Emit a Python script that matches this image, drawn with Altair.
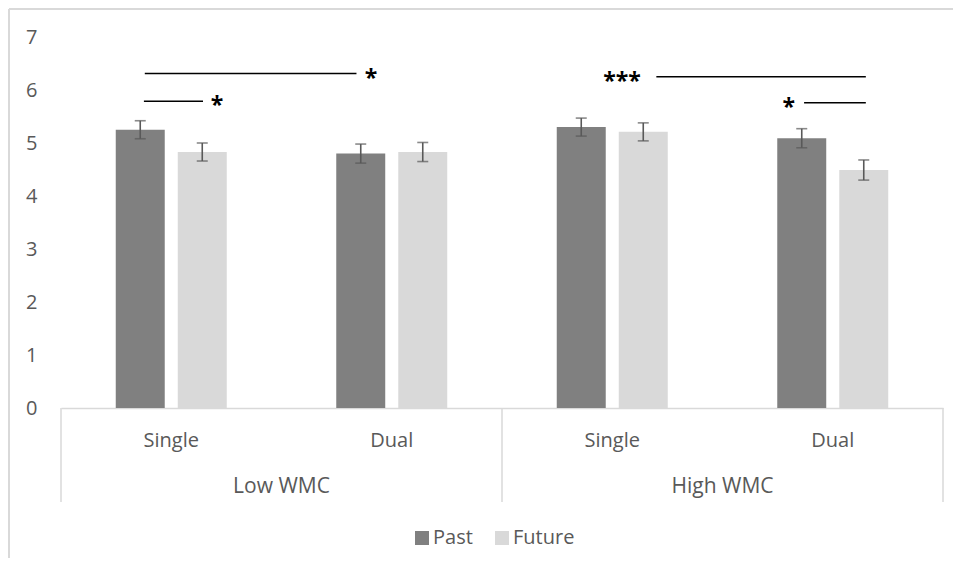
import altair as alt
import pandas as pd

# ---- data ----
groups = ["Low WMC", "Low WMC", "High WMC", "High WMC"]
conds = ["Single", "Dual", "Single", "Dual"]
past_mean = [5.25, 4.80, 5.30, 5.09]
past_err = [0.17, 0.18, 0.17, 0.18]
future_mean = [4.83, 4.83, 5.21, 4.49]
future_err = [0.17, 0.18, 0.17, 0.19]
series = ["Past", "Future"]
series_colors = ["#808080", "#d9d9d9"]

# significance brackets (x in category units, 0..4)
sig_x1 = [0.38, 0.376, 2.70, 3.37]
sig_x2 = [1.34, 0.644, 3.65, 3.65]
sig_y = [6.31, 5.79, 6.25, 5.76]
star_x = [1.406, 0.707, 2.544, 3.30]
star_text = ["*", "*", "***", "*"]

group_names = ["Low WMC", "High WMC"]
group_centers = [1, 3]
separators = [0, 2, 4]

keys = [f"{g}|{c}" for g, c in zip(groups, conds)]
rows = []
for i, k in enumerate(keys):
    rows.append(dict(key=k, time="Past", mean=past_mean[i],
                     lo=past_mean[i] - past_err[i], hi=past_mean[i] + past_err[i]))
    rows.append(dict(key=k, time="Future", mean=future_mean[i],
                     lo=future_mean[i] - future_err[i], hi=future_mean[i] + future_err[i]))
df = pd.DataFrame(rows)

W, H = 882, 371
FONT = "Open Sans"
TXT = "#595959"

xband = alt.X("key:N", scale=alt.Scale(domain=keys, paddingInner=0, paddingOuter=0),
              axis=alt.Axis(title=None, labelExpr="split(datum.label, '|')[1]",
                            labelAngle=0, labelFont=FONT, labelFontSize=20,
                            labelColor=TXT, labelBaseline="middle", labelPadding=32,
                            ticks=False, domainColor="#d9d9d9", domainWidth=1.5))
xoff = alt.XOffset("time:N", scale=alt.Scale(domain=series, paddingInner=0.21, paddingOuter=0.883))
yscale = alt.Scale(domain=[0, 7], nice=False)
yax = alt.Axis(title=None, values=list(range(8)), format="d", grid=False, domain=False, ticks=False,
               tickSize=0, labelFont=FONT, labelFontSize=20, labelColor=TXT, labelPadding=24)

base = alt.Chart(df)
bars = base.mark_bar().encode(
    x=xband, xOffset=xoff,
    y=alt.Y("mean:Q", scale=yscale, axis=yax),
    color=alt.Color("time:N", scale=alt.Scale(domain=series, range=series_colors),
                    legend=alt.Legend(title=None, orient="none", direction="horizontal",
                                      legendX=351, legendY=491, symbolType="square",
                                      symbolSize=196, symbolStrokeWidth=0,
                                      labelFont=FONT, labelFontSize=20, labelColor=TXT,
                                      labelOffset=1, columnPadding=19)),
)
err = base.mark_rule(color="#595959", strokeWidth=1.6).encode(
    x=alt.X("key:N"), xOffset=alt.XOffset("time:N"),
    y=alt.Y("lo:Q"), y2="hi:Q")
cap_lo = base.mark_tick(color="#595959", thickness=1.6, size=11, orient="horizontal").encode(
    x=alt.X("key:N"), xOffset=alt.XOffset("time:N"), y=alt.Y("lo:Q"))
cap_hi = base.mark_tick(color="#595959", thickness=1.6, size=11, orient="horizontal").encode(
    x=alt.X("key:N"), xOffset=alt.XOffset("time:N"), y=alt.Y("hi:Q"))

main = alt.layer(bars, err, cap_lo, cap_hi)

xq = alt.Scale(domain=[0, 4], nice=False, zero=False)
sig_df = pd.DataFrame(dict(x1=sig_x1, x2=sig_x2, y=sig_y))
star_df = pd.DataFrame(dict(x=star_x, y=sig_y, t=star_text))
grp_df = pd.DataFrame(dict(x=group_centers, t=group_names))
sep_df = pd.DataFrame(dict(x=separators))

sig_lines = alt.Chart(sig_df).mark_rule(color="black", strokeWidth=1.5).encode(
    x=alt.X("x1:Q", scale=xq, axis=None), x2="x2:Q", y=alt.Y("y:Q", scale=yscale))
stars = alt.Chart(star_df).mark_text(font=FONT, fontSize=23, fontWeight="bold", color="black",
                                     baseline="middle", dy=5).encode(
    x=alt.X("x:Q", scale=xq, axis=None), y=alt.Y("y:Q", scale=yscale), text="t:N")
grp_text = alt.Chart(grp_df).mark_text(font=FONT, fontSize=21, color=TXT, baseline="middle").encode(
    x=alt.X("x:Q", scale=xq, axis=None), y=alt.value(H + 79), text="t:N")
seps = alt.Chart(sep_df).mark_rule(color="#d9d9d9", strokeWidth=1.5).encode(
    x=alt.X("x:Q", scale=xq, axis=None), y=alt.value(H), y2=alt.value(H + 94))
frame_top = alt.Chart(sep_df).mark_rule(color="#d9d9d9", strokeWidth=1.5).encode(
    x=alt.value(-52), x2=alt.value(W + 40), y=alt.value(-28))
frame_left = alt.Chart(sep_df).mark_rule(color="#d9d9d9", strokeWidth=1.5).encode(
    x=alt.value(-52), y=alt.value(-28), y2=alt.value(H + 200))

over = alt.layer(sig_lines, stars, grp_text, seps, frame_top, frame_left)

chart = alt.layer(main, over).resolve_scale(x="independent").properties(
    width=W, height=H,
    autosize=alt.AutoSizeParams(type="none"),
    padding={"left": 53, "top": 29, "right": 10, "bottom": 150},
).configure_view(stroke=None)

chart.save("out.html", embed_options={"renderer": "svg", "actions": False})
